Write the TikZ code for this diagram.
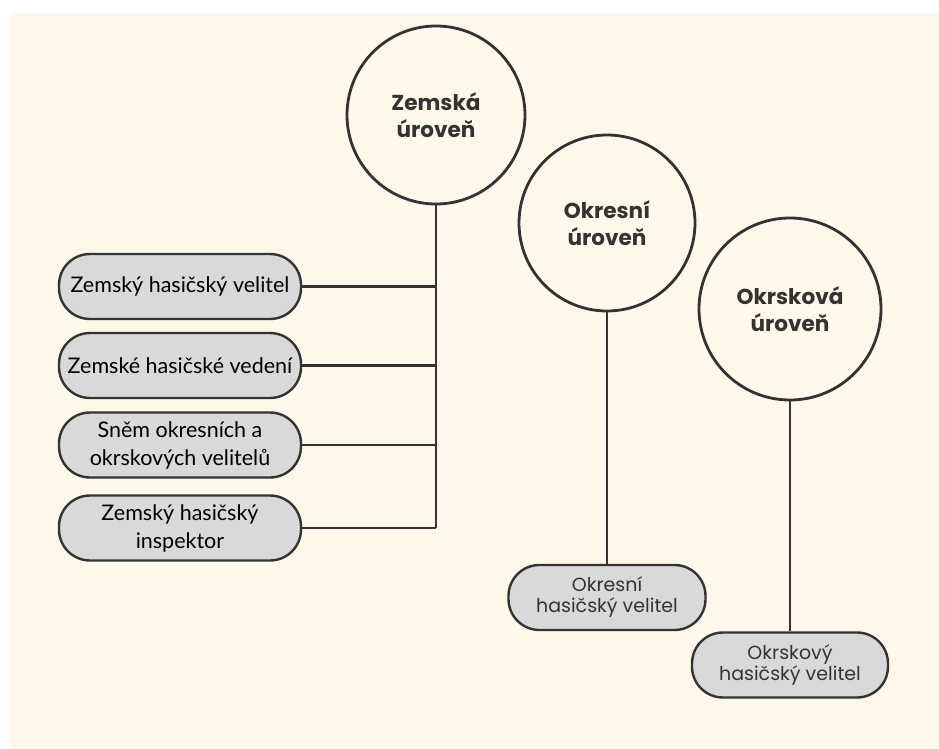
\documentclass[tikz,border=0pt]{standalone}
\usepackage{fontspec}
\setmainfont{Lato}
\newfontfamily\headfont{Poppins}
\usetikzlibrary{positioning}
\definecolor{cream}{HTML}{FEF8EA}
\definecolor{boxgray}{HTML}{D9D9D9}
\definecolor{ink}{HTML}{333333}

\begin{document}
\begin{tikzpicture}[x=1pt,y=-1pt,
  level/.style={circle,draw=ink,line width=2.8pt,minimum size=178pt,inner sep=0pt,
    align=center,font=\headfont\fontsize{21.6}{27}\selectfont\bfseries,text=ink},
  post/.style={rectangle,draw=ink,line width=2.4pt,fill=boxgray,rounded corners=31pt,
    minimum width=242pt,minimum height=65pt,inner sep=2pt,align=center,
    font=\fontsize{21.5}{28}\selectfont,text=black},
  postb/.style={post,minimum width=196pt,font=\headfont\fontsize{19}{21}\selectfont,text=ink},
  link/.style={draw=ink,line width=2.8pt}]
\useasboundingbox (0,0) rectangle (939,749);
\fill[cream] (10,13) rectangle (939,749);

% urovne
\node[level] (zem) at (436,115) {Zemská\\úroveň};
\node[level,minimum size=176pt] (okr) at (607,223) {Okresní\\úroveň};
\node[level,minimum size=182pt] (okrs) at (790,309) {Okrsková\\úroveň};

% zemska uroven
\node[post] (z1) at (180,286.5) {Zemský hasičský velitel};
\node[post] (z2) at (180,365.5) {Zemské hasičské vedení};
\node[post] (z3) at (180,445) {Sněm okresních a\\okrskových velitelů};
\node[post] (z4) at (180,528) {Zemský hasičský\\inspektor};
\coordinate (t1) at (zem.south |- z1.east);
\coordinate (t2) at (zem.south |- z2.east);
\coordinate (t3) at (zem.south |- z3.east);
\coordinate (t4) at (zem.south |- z4.east);
\draw[link] (zem.south) -- (t4);
\foreach \i in {1,...,4}
  \draw[link] (z\i.east) -- (t\i);

% okresni a okrskova uroven
\node[postb,minimum width=197pt] (o1) at (607,597.5) {Okresní\\hasičský velitel};
\node[postb] (o2) at (790,665) {Okrskový\\hasičský velitel};
\draw[link] (okr.south) -- (o1.north);
\draw[link] (okrs.south) -- (o2.north);
\end{tikzpicture}
\end{document}
